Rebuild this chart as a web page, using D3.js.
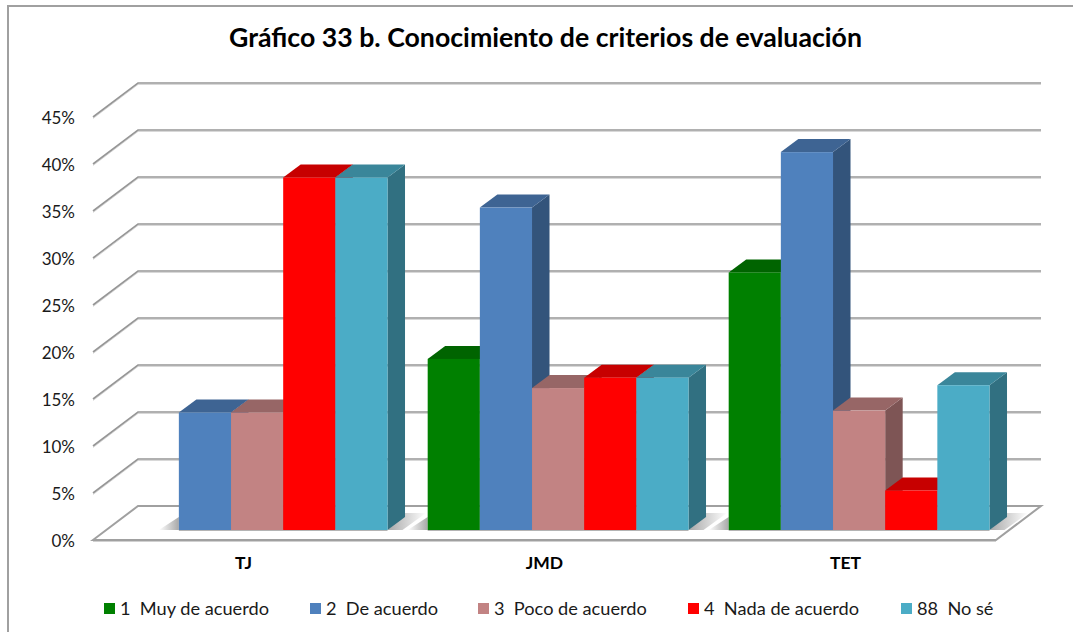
<!DOCTYPE html>
<html>
<head>
<meta charset="utf-8">
<script src="https://cdnjs.cloudflare.com/ajax/libs/d3/7.8.5/d3.min.js"></script>
<style>
    html, body { margin: 0; padding: 0; background: #fff; }
    svg { display: block; font-family: Lato, "Open Sans", sans-serif; }
    .legend-label { white-space: pre; }
</style>
</head>
<body>
<div id="chart"></div>
<script>
// Chart data
const categories = ["TJ", "JMD", "TET"];
const seriesNames = ["1  Muy de acuerdo", "2  De acuerdo", "3  Poco de acuerdo", "4  Nada de acuerdo", "88  No sé"];
const seriesColors = ["#008000", "#4f81bd", "#c28383", "#ff0000", "#4bacc6"];
const muyDeAcuerdo = [0, 18.2, 27.4];
const deAcuerdo = [12.5, 34.3, 40.2];
const pocoDeAcuerdo = [12.5, 15.1, 12.7];
const nadaDeAcuerdo = [37.5, 16.2, 4.2];
const noSe = [37.5, 16.2, 15.4];
const yTicks = [0, 5, 10, 15, 20, 25, 30, 35, 40, 45];

const seriesValues = [muyDeAcuerdo, deAcuerdo, pocoDeAcuerdo, nadaDeAcuerdo, noSe];

// Chart dimensions
const width = 1073;
const height = 632;
const frontLeft = 93, frontRight = 996, frontBase = 540;
const wallDx = 45, wallDy = 34;      // floor depth, front axis to back wall
const barShiftX = 13.6, barShiftY = 10; // bars stand a little behind the front axis
const barDx = 17.5, barDy = 13;      // bar depth

const svg = d3.select("#chart")
    .append("svg")
    .attr("width", width)
    .attr("height", height);

// Scales
const yScale = d3.scaleLinear()
    .domain([0, 45])
    .range([frontBase, frontBase - 423]);

const xScale = d3.scaleBand()
    .domain(categories)
    .range([frontLeft, frontRight]);

const seriesScale = d3.scaleBand()
    .domain(seriesNames)
    .range([0, xScale.bandwidth()])
    .paddingInner(0)
    .paddingOuter(0.385);

const legendX = d3.scaleOrdinal(seriesNames, [104, 310, 478, 688, 901]);

const polygon = (points) => points.map(p => p.join(",")).join(" ");

// Gradients for the floor shadows
const defs = svg.append("defs");
const addGradient = (id, from, to) => {
    const g = defs.append("linearGradient").attr("id", id);
    g.append("stop").attr("offset", "0%").attr("stop-color", from);
    g.append("stop").attr("offset", "100%").attr("stop-color", to);
};
addGradient("shadow-right", "#a8a8a8", "#ffffff");
addGradient("shadow-left", "#ffffff", "#a8a8a8");

// Outer frame: top and left edges only
svg.append("path")
    .attr("d", `M8,${height} V6 H${width}`)
    .attr("fill", "none")
    .attr("stroke", "#a0a0a0")
    .attr("stroke-width", 2);

// Title
svg.append("text")
    .attr("x", 545.5)
    .attr("y", 47)
    .attr("text-anchor", "middle")
    .attr("font-size", 26.7)
    .attr("font-weight", 700)
    .attr("fill", "#000")
    .text("Gráfico 33 b. Conocimiento de criterios de evaluación");

// Wall and side gridlines (0% is drawn as the floor)
const grid = svg.append("g").attr("fill", "none");
const drawGridLine = (t, color, offset) => {
    grid.append("path")
        .attr("d", `M${frontLeft},${yScale(t) + offset} L${frontLeft + wallDx},${yScale(t) - wallDy + offset} H${frontRight + wallDx}`)
        .attr("stroke", color)
        .attr("stroke-width", offset ? 1 : 1.6);
};
yTicks.filter(t => t > 0).forEach(t => {
    drawGridLine(t, "#d8d8d8", 1.5);
    drawGridLine(t, "#969696", 0);
});

// Floor
svg.append("polygon")
    .attr("points", polygon([
        [frontLeft, frontBase],
        [frontLeft + wallDx, frontBase - wallDy],
        [frontRight + wallDx, frontBase - wallDy],
        [frontRight, frontBase]
    ]))
    .attr("fill", "#fff")
    .attr("stroke", "#a0a0a0")
    .attr("stroke-width", 2);

svg.append("line")
    .attr("x1", frontLeft)
    .attr("x2", frontRight)
    .attr("y1", frontBase + 1.5)
    .attr("y2", frontBase + 1.5)
    .attr("stroke", "#d0d0d0");

// Bars, one group per category, left to right so each front covers the neighbour's side
const barBase = yScale(0) - barShiftY;
const barsStart = (cat) => xScale(cat) + barShiftX;

const catGroups = svg.selectAll("g.category")
    .data(categories)
    .enter()
    .append("g")
    .attr("class", "category");

catGroups.each(function (cat, c) {
    const g = d3.select(this);
    const drawn = seriesNames
        .map((name, s) => ({ name, value: seriesValues[s][c], color: seriesColors[s] }))
        .filter(d => d.value > 0);
    const left = barsStart(cat) + seriesScale(drawn[0].name);
    const last = drawn[drawn.length - 1];
    const right = barsStart(cat) + seriesScale(last.name) + seriesScale.bandwidth();

    // Soft shadows on the floor
    g.append("polygon")
        .attr("points", polygon([[left - 20, barBase], [left, barBase - barDy], [left, barBase]]))
        .attr("fill", "url(#shadow-left)");
    g.append("polygon")
        .attr("points", polygon([
            [right, barBase],
            [right + barDx, barBase - barDy - 4],
            [right + barDx + 21, barBase - barDy - 4],
            [right + 15, barBase]
        ]))
        .attr("fill", "url(#shadow-right)");

    g.append("line")
        .attr("x1", left)
        .attr("x2", right)
        .attr("y1", barBase + 0.5)
        .attr("y2", barBase + 0.5)
        .attr("stroke", "#b4b4b4");

    drawn.forEach(d => {
        const x0 = barsStart(cat) + seriesScale(d.name);
        const x1 = x0 + seriesScale.bandwidth();
        const top = yScale(d.value) - barShiftY;

        g.append("polygon")
            .attr("points", polygon([[x1, barBase], [x1 + barDx, barBase - barDy], [x1 + barDx, top - barDy], [x1, top]]))
            .attr("fill", d3.rgb(d.color).darker(1.2));
        g.append("polygon")
            .attr("points", polygon([[x0, top], [x0 + barDx, top - barDy], [x1 + barDx, top - barDy], [x1, top]]))
            .attr("fill", d3.rgb(d.color).darker(0.7));
        g.append("rect")
            .attr("x", x0)
            .attr("y", top)
            .attr("width", x1 - x0)
            .attr("height", barBase - top)
            .attr("fill", d.color);
    });
});

// Axes
const yAxis = d3.axisLeft(yScale)
    .tickValues(yTicks)
    .tickFormat(d => `${d}%`)
    .tickSize(0)
    .tickPadding(0);

const yAxisG = svg.append("g")
    .attr("transform", "translate(75,1)")
    .call(yAxis);
yAxisG.select(".domain").remove();
yAxisG.selectAll("text")
    .attr("font-family", "Lato, 'Open Sans', sans-serif")
    .attr("font-size", 17)
    .attr("fill", "#1a1a1a");

const xAxis = d3.axisBottom(xScale)
    .tickSize(0)
    .tickPadding(0);

const xAxisG = svg.append("g")
    .attr("transform", "translate(0,557)")
    .call(xAxis);
xAxisG.select(".domain").remove();
xAxisG.selectAll("text")
    .attr("font-family", "Lato, 'Open Sans', sans-serif")
    .attr("font-size", 17.5)
    .attr("font-weight", 700)
    .attr("fill", "#000");

// Legend
const legend = svg.selectAll("g.legend-item")
    .data(seriesNames)
    .enter()
    .append("g")
    .attr("class", "legend-item")
    .attr("transform", d => `translate(${legendX(d)},603)`);

legend.append("rect")
    .attr("width", 11)
    .attr("height", 11)
    .attr("fill", (d, i) => seriesColors[i]);

legend.append("text")
    .attr("class", "legend-label")
    .attr("x", 16)
    .attr("y", 11.5)
    .attr("font-size", 18.2)
    .attr("fill", "#1a1a1a")
    .text(d => d);
</script>
</body>
</html>
